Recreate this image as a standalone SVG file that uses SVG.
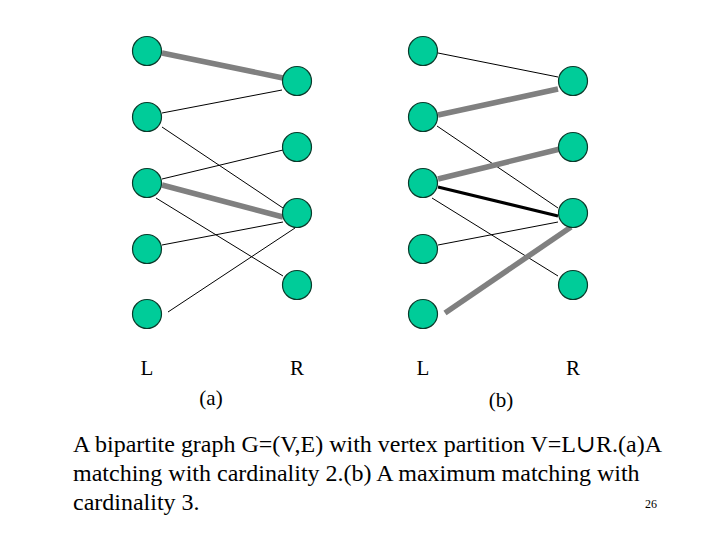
<svg xmlns="http://www.w3.org/2000/svg" width="720" height="540" viewBox="0 0 720 540">
<style>
.n{fill:#00CC99;stroke:#0a3a2a;stroke-width:1.2}
.t{stroke:#000;stroke-width:1}
.g{stroke:#808080;stroke-width:5.5}
.k{stroke:#000;stroke-width:3}
.lb{font-family:"Liberation Serif","DejaVu Serif",serif;font-size:21px;fill:#000;text-anchor:middle}
.cap{font-family:"Liberation Serif","DejaVu Serif",serif;font-size:24px;fill:#000}
</style>
<rect width="720" height="540" fill="#fff"/>
<g id="connectors">
<line class="g" x1="162" y1="53" x2="283" y2="78"/>
<line class="t" x1="162" y1="113" x2="282" y2="90"/>
<line class="t" x1="162" y1="127" x2="283" y2="208"/>
<line class="t" x1="162" y1="179" x2="283" y2="150"/>
<line class="g" x1="162" y1="185" x2="283" y2="217"/>
<line class="t" x1="156" y1="198" x2="283" y2="276"/>
<line class="t" x1="162" y1="245" x2="283" y2="222"/>
<line class="t" x1="168" y1="312" x2="295" y2="228"/>
<line class="t" x1="438" y1="53" x2="558" y2="77"/>
<line class="g" x1="438" y1="115" x2="558" y2="89"/>
<line class="t" x1="437" y1="126" x2="558" y2="208"/>
<line class="g" x1="438" y1="179" x2="560" y2="149"/>
<line class="k" x1="438" y1="187" x2="558" y2="216"/>
<line class="t" x1="432" y1="198" x2="558" y2="276"/>
<line class="t" x1="438" y1="245" x2="558" y2="222"/>
<line class="g" x1="445" y1="313" x2="571" y2="227"/>
</g>
<g id="a-L1"><circle class="n" cx="147" cy="51" r="14.5"/></g>
<g id="a-L2"><circle class="n" cx="147" cy="117" r="14.5"/></g>
<g id="a-L3"><circle class="n" cx="147" cy="183" r="14.5"/></g>
<g id="a-L4"><circle class="n" cx="147" cy="249" r="14.5"/></g>
<g id="a-L5"><circle class="n" cx="147" cy="314" r="14.5"/></g>
<g id="a-R1"><circle class="n" cx="297" cy="81" r="14.5"/></g>
<g id="a-R2"><circle class="n" cx="297" cy="147" r="14.5"/></g>
<g id="a-R3"><circle class="n" cx="297" cy="213" r="14.5"/></g>
<g id="a-R4"><circle class="n" cx="297" cy="285" r="14.5"/></g>
<g id="b-L1"><circle class="n" cx="423" cy="51" r="14.5"/></g>
<g id="b-L2"><circle class="n" cx="423" cy="117" r="14.5"/></g>
<g id="b-L3"><circle class="n" cx="423" cy="183" r="14.5"/></g>
<g id="b-L4"><circle class="n" cx="423" cy="249" r="14.5"/></g>
<g id="b-L5"><circle class="n" cx="423" cy="314" r="14.5"/></g>
<g id="b-R1"><circle class="n" cx="573" cy="81" r="14.5"/></g>
<g id="b-R2"><circle class="n" cx="573" cy="147" r="14.5"/></g>
<g id="b-R3"><circle class="n" cx="573" cy="213" r="14.5"/></g>
<g id="b-R4"><circle class="n" cx="573" cy="285" r="14.5"/></g>
<g id="labels">
<text class="lb" x="147" y="375">L</text>
<text class="lb" x="297" y="375">R</text>
<text class="lb" x="211" y="405">(a)</text>
<text class="lb" x="423" y="375">L</text>
<text class="lb" x="573" y="375">R</text>
<text class="lb" x="501" y="407">(b)</text>
</g>
<g id="caption">
<text class="cap" x="73" y="452" textLength="589" lengthAdjust="spacingAndGlyphs">A bipartite graph G=(V,E) with vertex partition V=L∪R.(a)A</text>
<text class="cap" x="73" y="481">matching with cardinality 2.(b) A maximum matching with</text>
<text class="cap" x="73" y="510">cardinality 3.</text>
<text x="645" y="508" style="font-family:'Liberation Serif',serif;font-size:12px">26</text>
</g>
</svg>
